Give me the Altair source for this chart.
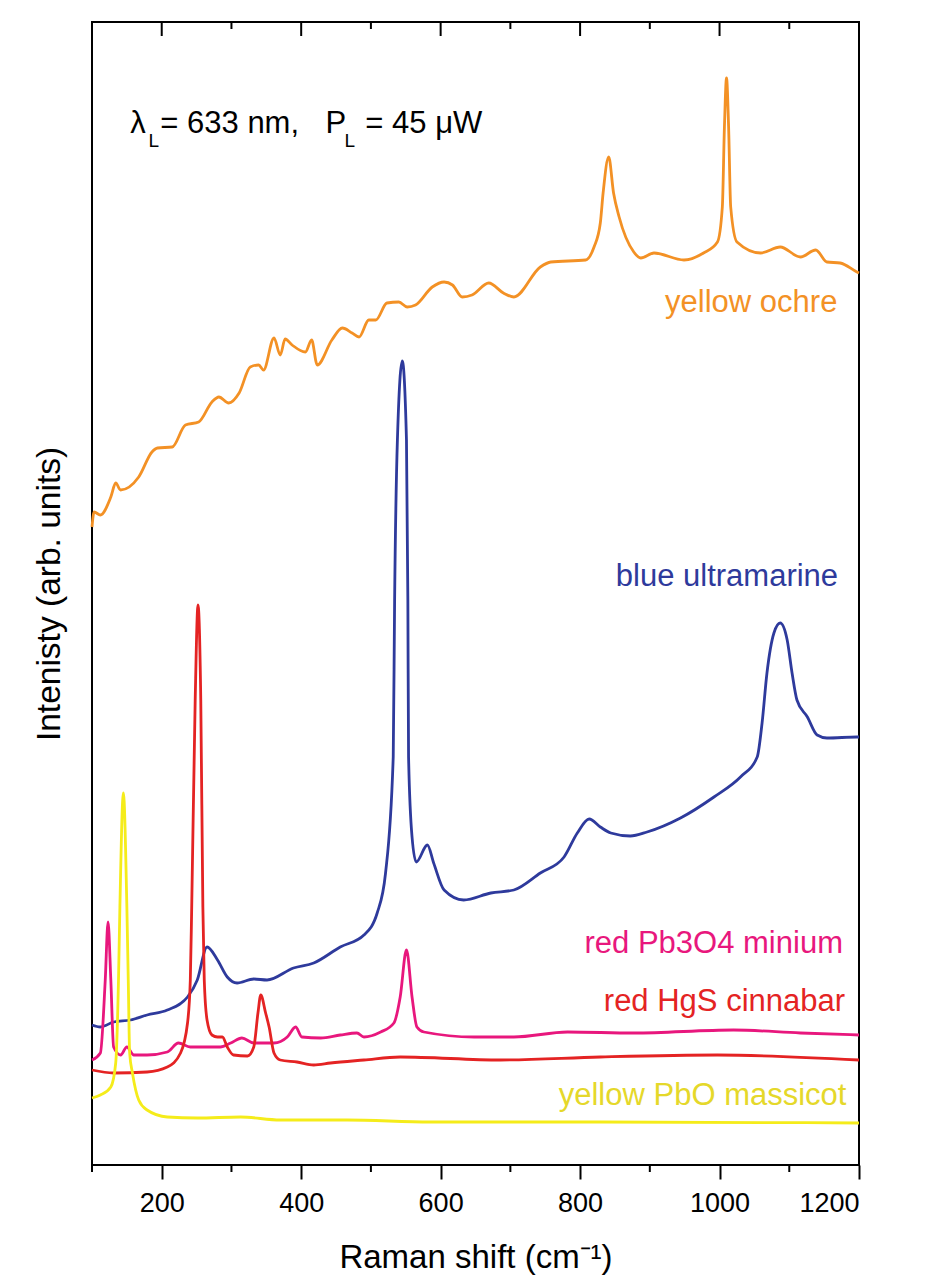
import altair as alt
import pandas as pd

# ---------------- data ----------------
ochre_x = [100, 103, 112, 127, 134, 141, 167, 186, 194, 215, 234, 253, 272, 282, 296, 311, 327, 339, 346, 361,
           370, 377, 387, 406, 415, 423, 444, 459, 473, 483, 497, 507, 523, 540, 552, 564, 588, 605, 617, 631,
           645, 669, 690, 705, 743, 758, 808, 820, 829, 833, 841, 848, 856, 877, 887, 906, 949, 977, 997, 1004,
           1007, 1010, 1013, 1016, 1025, 1059, 1087, 1116, 1138, 1154, 1173, 1197, 1200]
ochre_y = [63.8, 65.3, 65.0, 66.8, 68.2, 67.5, 68.8, 71.3, 71.7, 71.8, 74.0, 74.3, 76.3, 76.8, 76.2, 77.2, 79.8, 80.0, 79.5, 82.7,
           81.0, 82.6, 82.0, 81.3, 82.5, 80.0, 82.5, 83.7, 83.2, 82.8, 84.5, 84.5, 86.2, 86.3, 85.8, 86.0, 87.8, 88.3, 88.0, 86.8,
           87.0, 88.2, 87.2, 86.8, 89.8, 90.3, 90.5, 91.8, 94.2, 97.2, 100.8, 97.2, 94.8, 91.3, 90.7, 91.2, 90.5, 91.2, 92.3, 95.8,
           103.8, 108.7, 103.8, 95.8, 92.3, 91.2, 91.8, 90.8, 91.5, 90.3, 90.2, 89.3, 89.2]

ultra_x = [100, 112, 131, 155, 179, 208, 237, 251, 265, 280, 294, 308, 332, 351, 389, 418, 456, 490, 509, 521,
           532, 534, 538, 545, 551, 553, 554, 559, 565, 581, 590, 605, 633, 672, 705, 743, 777, 796, 813, 829,
           844, 872, 896, 944, 992, 1030, 1054, 1061, 1068, 1078, 1087, 1097, 1104, 1111, 1126, 1140, 1154, 1197, 1200]
ultra_y = [14.0, 13.8, 14.3, 14.5, 15.0, 15.5, 16.8, 18.5, 21.8, 20.5, 18.8, 18.2, 18.6, 18.5, 19.7, 20.2, 21.8, 23.0, 25.2, 29.2,
           40.8, 56.5, 72.5, 80.4, 72.5, 56.5, 40.8, 32.8, 30.3, 32.0, 30.2, 27.5, 26.5, 27.2, 27.5, 29.2, 30.8, 33.2, 34.6, 33.8,
           33.2, 32.9, 33.3, 34.7, 36.8, 38.8, 40.8, 44.2, 49.2, 53.2, 54.2, 52.5, 49.2, 46.5, 44.8, 43.0, 42.7, 42.8, 42.8]

minium_x = [100, 112, 119, 123, 127, 131, 141, 150, 160, 179, 208, 224, 241, 284, 299, 315, 332, 361, 380, 392,
            401, 428, 456, 480, 490, 514, 533, 542, 551, 559, 566, 576, 648, 705, 782, 877, 1020, 1116, 1200]
minium_y = [10.5, 11.2, 18.5, 24.3, 18.5, 11.8, 11.0, 11.8, 11.0, 11.0, 11.3, 12.2, 11.8, 11.8, 12.2, 12.7, 12.2, 12.2, 12.8, 13.8,
            12.8, 12.7, 13.0, 13.2, 12.8, 13.3, 14.2, 16.8, 21.5, 16.8, 13.8, 13.3, 12.8, 12.8, 13.3, 13.2, 13.5, 13.2, 13.0]

cinnabar_x = [100, 131, 179, 208, 227, 237, 241, 243, 248, 252, 256, 259, 261, 265, 272, 280, 287, 294, 303, 323,
              332, 338, 342, 349, 354, 361, 370, 394, 418, 442, 490, 542, 686, 829, 997, 1200]
cinnabar_y = [9.5, 9.2, 9.3, 9.8, 11.2, 14.2, 18.5, 25.8, 46.5, 56.0, 46.5, 25.8, 18.5, 14.5, 13.0, 12.8, 12.8, 11.8, 11.0, 10.9,
              11.8, 15.2, 17.0, 15.2, 13.8, 11.2, 10.5, 10.3, 10.0, 10.2, 10.5, 10.8, 10.5, 10.8, 11.0, 10.5]

massicot_x = [100, 112, 127, 134, 138, 140, 145, 150, 152, 154, 158, 167, 179, 208, 251, 313, 370, 466, 585, 829, 1200]
massicot_y = [6.7, 7.0, 7.8, 10.2, 18.5, 25.8, 37.2, 25.8, 18.5, 11.2, 9.2, 6.5, 5.5, 4.8, 4.7, 4.8, 4.5, 4.5, 4.3, 4.3, 4.2]

series_names = ["yellow ochre", "blue ultramarine", "red Pb3O4 minium", "red HgS cinnabar", "yellow PbO massicot"]
line_colors = ["#F39125", "#2E3A9C", "#E8177D", "#E42323", "#F5EC1A"]
text_colors = ["#F39125", "#2E3A9C", "#E8177D", "#E42323", "#E5D82A"]
label_x = [1169, 1170, 1177, 1180, 1182]
label_y = [85.3, 57.9, 21.2, 15.4, 6.0]

major_ticks = [200, 400, 600, 800, 1000, 1200]
minor_ticks = [100, 300, 500, 700, 900, 1100]

note_text = ["λ", "L", "= 633 nm,", "P", "L", "= 45 μW"]
note_x = [155, 181, 198, 435, 462, 492]
note_y = [103.2, 101.8, 103.2, 103.2, 101.8, 103.2]
note_size = [31, 19, 31, 31, 19, 31]

# ---------------- tables ----------------
rows = []
for name, xs, ys in zip(series_names,
                        [ochre_x, ultra_x, minium_x, cinnabar_x, massicot_x],
                        [ochre_y, ultra_y, minium_y, cinnabar_y, massicot_y]):
    for i, (a, b) in enumerate(zip(xs, ys)):
        rows.append({"series": name, "x": a, "y": b, "i": i})
df = pd.DataFrame(rows)

labels = pd.DataFrame({"text": series_names, "x": label_x, "y": label_y, "color": text_colors})
notes = pd.DataFrame({"text": note_text, "x": note_x, "y": note_y, "size": note_size})
majors = pd.DataFrame({"x": major_ticks})
minors = pd.DataFrame({"x": minor_ticks})

FONT = "Liberation Sans"
xscale = alt.Scale(domain=[100, 1200], nice=False, zero=False)
yscale = alt.Scale(domain=[0, 114.3], nice=False, zero=False)

x_axis = alt.Axis(
    values=major_ticks, format="d", title="Raman shift (cm⁻¹)", grid=False, domain=False,
    tickSize=14, tickWidth=2, tickColor="black", labelPadding=11,
    labelFontSize=27, labelFont=FONT, labelColor="black",
    titleFontSize=33, titleFont=FONT, titleFontWeight="normal", titleColor="black",
    titleY=102, titleBaseline="alphabetic",
)
y_axis = alt.Axis(
    title="Intenisty (arb. units)", labels=False, ticks=False, domain=False, grid=False,
    titleFontSize=33.5, titleFont=FONT, titleFontWeight="normal", titleColor="black",
    titleX=-33, titleY=571.5, titleAngle=270, titleBaseline="alphabetic", titleAlign="center",
)

X = alt.X("x:Q", scale=xscale, axis=x_axis)
Y = alt.Y("y:Q", scale=yscale, axis=y_axis)

lines = alt.Chart(df).mark_line(strokeWidth=2.8, strokeJoin="round", interpolate="monotone").encode(
    x=X,
    y=Y,
    color=alt.Color("series:N", scale=alt.Scale(domain=series_names, range=line_colors), legend=None),
    order=alt.Order("i:Q"),
    detail="series:N",
)

top_major = alt.Chart(majors).mark_rule(color="black", strokeWidth=2).encode(
    x=X, y=alt.value(0), y2=alt.value(14))
top_minor = alt.Chart(minors).mark_rule(color="black", strokeWidth=2).encode(
    x=X, y=alt.value(0), y2=alt.value(7))
bottom_minor = alt.Chart(minors).mark_rule(color="black", strokeWidth=2).encode(
    x=X, y=alt.value(1143), y2=alt.value(1150))

label_layer = alt.Chart(labels).mark_text(align="right", baseline="alphabetic", fontSize=31, font=FONT).encode(
    x=X,
    y=Y,
    text="text:N",
    color=alt.Color("color:N", scale=None),
)

note_layer = alt.Chart(notes).mark_text(align="left", baseline="alphabetic", font=FONT, color="black").encode(
    x=X,
    y=Y,
    text="text:N",
    size=alt.Size("size:Q", scale=None, legend=None),
)

chart = alt.layer(lines, top_major, top_minor, bottom_minor, label_layer, note_layer).properties(
    width=767, height=1143,
    padding={"left": 84, "top": 14, "right": 54, "bottom": 110},
    autosize=alt.AutoSizeParams(type="none"),
    background="white",
).configure_view(stroke="black", strokeWidth=2)

chart.save("out.html", embed_options={"renderer": "svg", "actions": False})
